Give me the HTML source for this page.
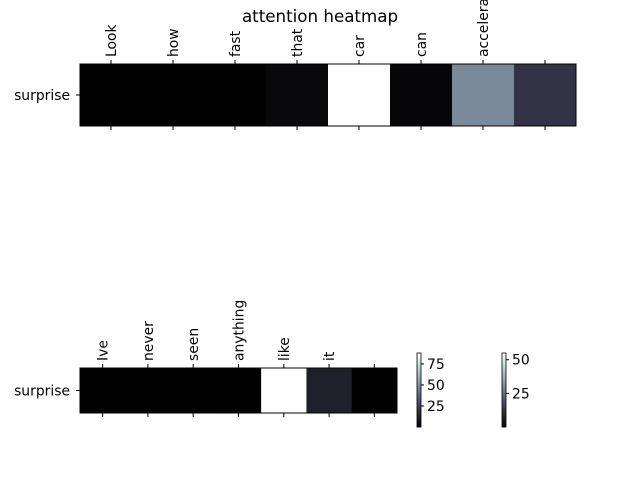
<!DOCTYPE html>
<html><head><meta charset="utf-8"><style>
body{margin:0;background:#fff;}
svg text{font-family:"DejaVu Sans","Liberation Sans",sans-serif;font-size:13.9px;fill:#000;}
</style></head><body>
<svg id="c" width="640" height="480" xmlns="http://www.w3.org/2000/svg">
<text x="320" y="22" text-anchor="middle" style="font-size:16.7px">attention heatmap</text>
</svg>
<script>
const topWords = ["Look","how","fast","that","car","can","accelerated",""];
const topValues = [0.3,0.3,0.3,3.5,88,2.5,48,20];
const topMax = 88;
const botWords = ["Ive","never","seen","anything","like","it",""];
const botValues = [0.3,0.3,0.3,0.5,55,8,0.3];
const botMax = 55;
const row = "surprise";
const cb1Ticks = [25,50,75];
const cb2Ticks = [25,50];

const NS="http://www.w3.org/2000/svg";
const svg=document.getElementById('c');
function el(t,a,p){const e=document.createElementNS(NS,t);for(const k in a)e.setAttribute(k,a[k]);(p||svg).appendChild(e);return e;}
function interp(pts,x){for(let i=1;i<pts.length;i++){if(x<=pts[i][0]){const a=pts[i-1],b=pts[i];return a[1]+(b[1]-a[1])*(x-a[0])/(b[0]-a[0]);}}return 1;}
function bone(x){x=Math.max(0,Math.min(1,x));
 const r=interp([[0,0],[0.746,0.652],[1,1]],x);
 const g=interp([[0,0],[0.365,0.319],[0.746,0.777],[1,1]],x);
 const b=interp([[0,0],[0.365,0.444],[1,1]],x);
 return `rgb(${Math.round(r*255)},${Math.round(g*255)},${Math.round(b*255)})`;}

function heat(words,vals,vmax,x0,y0,w,h,prefix){
  const g=el('g',{});
  
  
  const cw=w/words.length;
  vals.forEach((v,i)=>{
    const r=el('rect',{x:x0+i*cw,y:y0,width:cw+0.5,height:h,fill:bone(v/vmax)},g);
    
    
  });
  el('rect',{x:x0,y:y0,width:w,height:h,fill:'none',stroke:'#000','stroke-width':1},g);
  words.forEach((wd,i)=>{
    const cx=x0+(i+0.5)*cw;
    el('line',{x1:cx,y1:y0,x2:cx,y2:y0-4,stroke:'#000'},g);
    el('line',{x1:cx,y1:y0+h,x2:cx,y2:y0+h+4,stroke:'#000'},g);
    if(wd){const t=el('text',{x:0,y:0,transform:`translate(${cx+5},${y0-7}) rotate(-90)`},g);t.textContent=wd;
      
      }
  });
  el('line',{x1:x0,y1:y0+h/2,x2:x0-4,y2:y0+h/2,stroke:'#000'},g);
  const yl=el('text',{x:x0-10,y:y0+h/2+5,'text-anchor':'end'},g);yl.textContent=row;
  
  
}
heat(topWords,topValues,topMax,80,64,496,62,'top');
heat(botWords,botValues,botMax,80,368,317,45,'bottom');

function cbar(x,y0,y1,vmax,ticks,name){
  const g=el('g',{});
  
  
  const n=60,h=(y1-y0)/n;
  for(let i=0;i<n;i++)el('rect',{x:x,y:y1-(i+1)*h,width:4,height:h+0.3,fill:bone((i+0.5)/n)},g);
  el('rect',{x:x,y:y0,width:4,height:y1-y0,fill:'none',stroke:'#000','stroke-width':0.8},g);
  ticks.forEach(t=>{const yy=y1-(t/vmax)*(y1-y0);
    el('line',{x1:x+4,y1:yy,x2:x+7,y2:yy,stroke:'#000'},g);
    const tx=el('text',{x:x+10,y:yy+5},g);tx.textContent=t;
    
    });
}
cbar(417,353,427,topMax,cb1Ticks,'colorbar-top');
cbar(502,353,427,botMax,cb2Ticks,'colorbar-bottom');
</script>
</body></html>
